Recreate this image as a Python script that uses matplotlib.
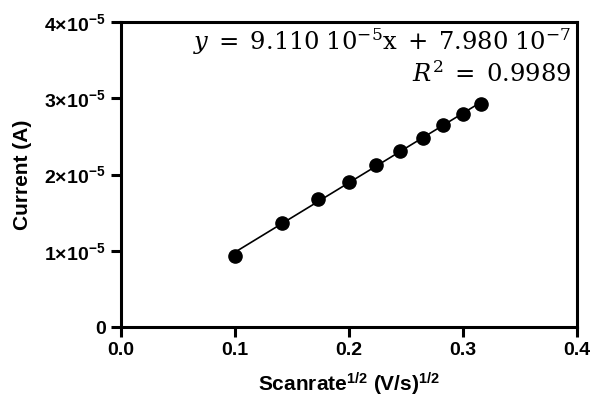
import numpy as np
import matplotlib
matplotlib.use("Agg")
import matplotlib.pyplot as plt
from matplotlib.ticker import FixedLocator, FixedFormatter

plt.rcParams['font.family'] = ['Liberation Sans', 'DejaVu Sans']
plt.rcParams['mathtext.fontset'] = 'custom'
plt.rcParams['mathtext.rm'] = 'Liberation Sans:bold'
plt.rcParams['mathtext.bf'] = 'Liberation Sans:bold'
plt.rcParams['mathtext.it'] = 'Liberation Sans:bold'

# data
scan_sqrt = [0.1, 0.1414, 0.1732, 0.2, 0.2236, 0.2449, 0.2646, 0.2828, 0.3, 0.3162]
current = [0.936e-5, 1.369e-5, 1.676e-5, 1.907e-5, 2.126e-5, 2.314e-5, 2.484e-5, 2.647e-5, 2.791e-5, 2.927e-5]
x_ticks = [0.0, 0.1, 0.2, 0.3, 0.4]
x_ticklabels = ['0.0', '0.1', '0.2', '0.3', '0.4']
y_ticks = [0, 1e-5, 2e-5, 3e-5, 4e-5]
y_ticklabels = ['0', r'1×10$^{\mathbf{-5}}$', r'2×10$^{\mathbf{-5}}$', r'3×10$^{\mathbf{-5}}$', r'4×10$^{\mathbf{-5}}$']
eq_text = r'$y\;=\;9.110\;10^{-5}\mathrm{x}\;+\;7.980\;10^{-7}$'
r2_text = r'$R^{2}\;=\;0.9989$'

fig = plt.figure(figsize=(5.94, 4.04), dpi=100)
ax = fig.add_axes([121/594, 1-327/404, (577-121)/594, (327-22)/404])

xs = np.array(scan_sqrt)
ys = np.array(current)
coef = np.polyfit(xs, ys, 1)
xl = np.array([xs.min(), xs.max()])
ax.plot(xl, np.polyval(coef, xl), color='black', lw=1.2, zorder=2)
ax.plot(xs, ys, 'o', color='black', ms=9.5, zorder=3)

ax.set_xlim(0, 0.4)
ax.set_ylim(0, 4e-5)
ax.xaxis.set_major_locator(FixedLocator(x_ticks))
ax.xaxis.set_major_formatter(FixedFormatter(x_ticklabels))
ax.yaxis.set_major_locator(FixedLocator(y_ticks))
ax.yaxis.set_major_formatter(FixedFormatter(y_ticklabels))

for s in ax.spines.values():
    s.set_linewidth(2.2)
ax.tick_params(axis='both', which='major', width=2.2, length=7, direction='out',
               labelsize=14, pad=4)
for lab in ax.get_xticklabels() + ax.get_yticklabels():
    lab.set_fontweight('bold')

ax.set_xlabel(r'Scanrate$^{1/2}$ (V/s)$^{1/2}$', fontsize=15, fontweight='bold', labelpad=8)
ax.set_ylabel('Current (A)', fontsize=15, fontweight='bold', labelpad=9)

# equation text in serif math
ax.text(0.988, 0.985, eq_text, transform=ax.transAxes, ha='right', va='top',
        fontsize=17.5, math_fontfamily='dejavuserif')
ax.text(0.988, 0.87, r2_text, transform=ax.transAxes, ha='right', va='top',
        fontsize=17.5, math_fontfamily='dejavuserif')

fig.savefig('out.png', dpi=100)
